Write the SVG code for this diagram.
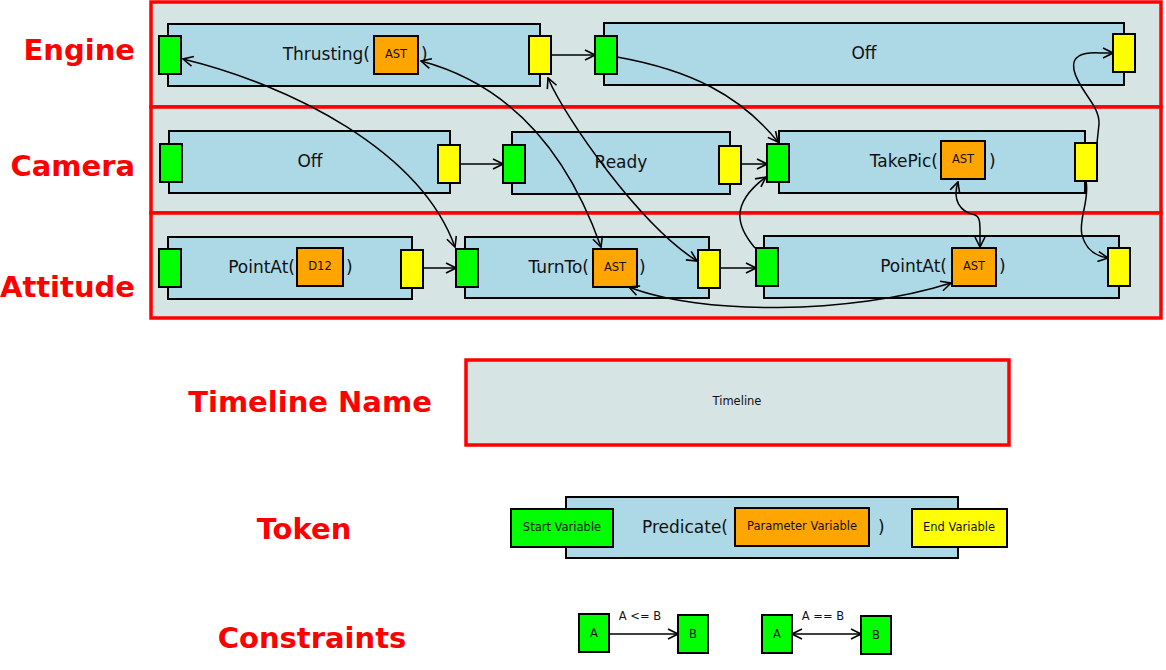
<svg xmlns="http://www.w3.org/2000/svg" width="1166" height="670" viewBox="0 0 1166 670">
<defs>
<style>
.tl{fill:#d6e4e4;stroke:#ff0000;stroke-width:3.5}
.bd{fill:#add8e6;stroke:#000;stroke-width:2}
.st{fill:#00ff00;stroke:#000;stroke-width:2}
.en{fill:#ffff00;stroke:#000;stroke-width:2}
.pm{fill:#ffa500;stroke:#000;stroke-width:2}
.lb{font-family:"DejaVu Sans","Noto Sans",sans-serif;font-size:17px;fill:#111}
.sm{font-family:"DejaVu Sans","Noto Sans",sans-serif;font-size:11.5px;fill:#111}
.tt{font-family:"DejaVu Sans","Noto Sans",sans-serif;font-size:29px;font-weight:bold;fill:#ff0000}
.c{fill:none;stroke:#000;stroke-width:1.5}
.a{marker-end:url(#ah)}
.aa{marker-end:url(#ah);marker-start:url(#ah)}
</style>
<marker id="ah" viewBox="0 0 12 12" refX="11" refY="6" markerWidth="12" markerHeight="12" markerUnits="userSpaceOnUse" orient="auto-start-reverse">
<path d="M1,1 L11,6 L1,11" fill="none" stroke="#000" stroke-width="1.6"/>
</marker>
</defs>
<rect width="1166" height="670" fill="#fff"/>

<g id="timeline-engine">
<rect class="tl" x="151" y="2" width="1010" height="105"/>
<text class="tt" x="135" y="60" text-anchor="end">Engine</text>
</g>
<g id="timeline-camera">
<rect class="tl" x="151" y="107" width="1010" height="106"/>
<text class="tt" x="135" y="176" text-anchor="end">Camera</text>
</g>
<g id="timeline-attitude">
<rect class="tl" x="151" y="213" width="1010" height="105"/>
<text class="tt" x="135" y="297" text-anchor="end">Attitude</text>
</g>

<g id="engine-thrusting">
<rect class="bd" x="168" y="24" width="372" height="62"/>
<rect class="st" x="159" y="36" width="22" height="38"/>
<text class="lb" x="370" y="60" text-anchor="end">Thrusting(</text>
<rect class="pm" x="374" y="36" width="44" height="38"/>
<text class="sm" x="396" y="58" text-anchor="middle">AST</text>
<text class="lb" x="421" y="60">)</text>
<rect class="en" x="529" y="36" width="22" height="38"/>
</g>
<g id="engine-off">
<rect class="bd" x="604" y="23" width="520" height="62"/>
<rect class="st" x="595" y="36" width="22" height="38"/>
<text class="lb" x="864" y="59" text-anchor="middle">Off</text>
<rect class="en" x="1113" y="34" width="22" height="38"/>
</g>

<g id="camera-off">
<rect class="bd" x="169" y="131" width="281" height="62"/>
<rect class="st" x="160" y="144" width="22" height="38"/>
<text class="lb" x="310" y="167" text-anchor="middle">Off</text>
<rect class="en" x="438" y="145" width="22" height="38"/>
</g>
<g id="camera-ready">
<rect class="bd" x="512" y="132" width="218" height="62"/>
<rect class="st" x="503" y="145" width="22" height="38"/>
<text class="lb" x="621" y="168" text-anchor="middle">Ready</text>
<rect class="en" x="719" y="146" width="22" height="38"/>
</g>
<g id="camera-takepic">
<rect class="bd" x="779" y="131" width="306" height="62"/>
<rect class="st" x="767" y="144" width="22" height="38"/>
<text class="lb" x="938" y="167" text-anchor="end">TakePic(</text>
<rect class="pm" x="941" y="141" width="44" height="38"/>
<text class="sm" x="963" y="163" text-anchor="middle">AST</text>
<text class="lb" x="989" y="167">)</text>
<rect class="en" x="1075" y="143" width="22" height="38"/>
</g>

<g id="attitude-pointat-d12">
<rect class="bd" x="168" y="237" width="244" height="62"/>
<rect class="st" x="159" y="249" width="22" height="38"/>
<text class="lb" x="295" y="273" text-anchor="end">PointAt(</text>
<rect class="pm" x="297" y="248" width="46" height="38"/>
<text class="sm" x="320" y="270" text-anchor="middle">D12</text>
<text class="lb" x="346" y="273">)</text>
<rect class="en" x="401" y="250" width="22" height="38"/>
</g>
<g id="attitude-turnto">
<rect class="bd" x="465" y="237" width="244" height="61"/>
<rect class="st" x="456" y="249" width="22" height="38"/>
<text class="lb" x="589" y="273" text-anchor="end">TurnTo(</text>
<rect class="pm" x="593" y="249" width="44" height="38"/>
<text class="sm" x="615" y="271" text-anchor="middle">AST</text>
<text class="lb" x="639" y="273">)</text>
<rect class="en" x="698" y="250" width="22" height="38"/>
</g>
<g id="attitude-pointat-ast">
<rect class="bd" x="764" y="236" width="355" height="62"/>
<rect class="st" x="756" y="248" width="22" height="38"/>
<text class="lb" x="947" y="272" text-anchor="end">PointAt(</text>
<rect class="pm" x="952" y="248" width="44" height="38"/>
<text class="sm" x="974" y="270" text-anchor="middle">AST</text>
<text class="lb" x="999" y="272">)</text>
<rect class="en" x="1108" y="248" width="22" height="38"/>
</g>

<g id="legend-timeline">
<text class="tt" x="310" y="412" text-anchor="middle">Timeline Name</text>
<rect class="tl" x="466" y="360" width="543" height="85"/>
<text class="sm" x="737" y="405" text-anchor="middle">Timeline</text>
</g>
<g id="legend-token">
<text class="tt" x="304" y="539" text-anchor="middle">Token</text>
<rect class="bd" x="566" y="497" width="392" height="61"/>
<rect class="st" x="511" y="509" width="102" height="38"/>
<text class="sm" x="562" y="531" text-anchor="middle">Start Variable</text>
<text class="lb" x="728" y="533" text-anchor="end">Predicate(</text>
<rect class="pm" x="735" y="508" width="134" height="38"/>
<text class="sm" x="802" y="530" text-anchor="middle">Parameter Variable</text>
<text class="lb" x="878" y="533">)</text>
<rect class="en" x="912" y="509" width="95" height="38"/>
<text class="sm" x="959" y="531" text-anchor="middle">End Variable</text>
</g>
<g id="legend-constraints">
<text class="tt" x="312" y="648" text-anchor="middle">Constraints</text>
<g id="constraint-le">
<rect class="st" x="579" y="614" width="30" height="38"/>
<text class="sm" x="594" y="637" text-anchor="middle">A</text>
<rect class="st" x="678" y="615" width="30" height="38"/>
<text class="sm" x="693" y="638" text-anchor="middle">B</text>
<text class="sm" x="640" y="620" text-anchor="middle">A &lt;= B</text>
</g>
<g id="constraint-eq">
<rect class="st" x="762" y="615" width="30" height="38"/>
<text class="sm" x="777" y="638" text-anchor="middle">A</text>
<rect class="st" x="861" y="616" width="30" height="38"/>
<text class="sm" x="876" y="639" text-anchor="middle">B</text>
<text class="sm" x="823" y="620" text-anchor="middle">A == B</text>
</g>
</g>

<g id="connectors">
<path class="c a" d="M551,55 L595,55"/>
<path class="c a" d="M460,164 L503,164"/>
<path class="c a" d="M741,164 L767,164"/>
<path class="c a" d="M423,268 L456,268"/>
<path class="c a" d="M720,268 L756,268"/>
<path class="c aa" d="M183,59 C290,85 420,150 455,247"/>
<path class="c aa" d="M421,61 C500,82 563,140 601,247"/>
<path class="c aa" d="M548,78 C565,118 640,225 697,261"/>
<path class="c a" d="M617,57 C690,70 740,95 778,142"/>
<path class="c a" d="M755,248 C738,228 728,205 766,177"/>
<path class="c a" d="M1097,143 L1099,124 C1100,105 1078,90 1074,70 C1071,56 1082,52 1100,53 L1113,53"/>
<path class="c aa" d="M958,182 C952,200 960,212 975,215 C981,217 980,225 980,247"/>
<path class="c a" d="M1086,181 C1090,200 1078,220 1082,235 C1086,250 1095,256 1108,258"/>
<path class="c aa" d="M629,287 C700,315 850,315 951,283"/>
<path class="c a" d="M609,634 L678,634"/>
<path class="c aa" d="M792,634 L861,634"/>
</g>
</svg>
